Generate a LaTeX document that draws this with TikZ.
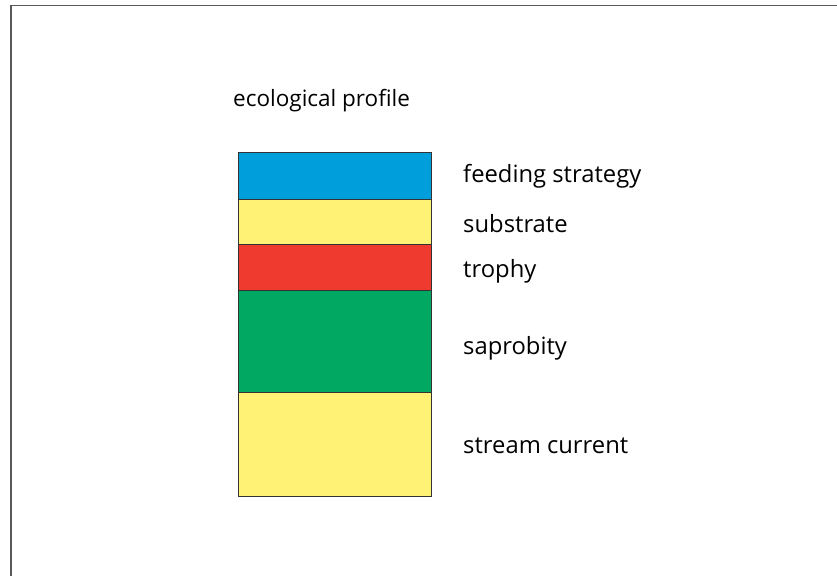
\documentclass[tikz,border=0pt]{standalone}
\usepackage{fontspec}
\setmainfont{Open Sans}
\usepackage{tikz}
\definecolor{feedblue}{HTML}{009EDB}
\definecolor{subyellow}{HTML}{FFF275}
\definecolor{trophred}{HTML}{EE3A2F}
\definecolor{sapgreen}{HTML}{00A862}
\begin{document}
\begin{tikzpicture}[
        x=0.03cm,y=-0.03cm,
        band/.style={draw=black!80,line width=0.6pt,minimum width=5.79cm,anchor=north west,inner sep=0pt,outer sep=0pt},
        tag/.style={anchor=west,font=\fontsize{20.3}{22}\selectfont,inner sep=0pt},
        head/.style={anchor=west,font=\fontsize{19.2}{21}\selectfont,inner sep=0pt}
    ]
        \useasboundingbox (0,0) rectangle (837,576);
        % Frame (top and left edges)
        \coordinate (TL) at (11,5.5);
        \coordinate (TR) at (837,5.5);
        \coordinate (BL) at (11,576);
        \draw [black!65,line width=1.5pt] (TR) -- (TL) -- (BL);

        % Title
        \node[head] (title) at (233,101) {ecological profile};

        % Define the bands
        \node[band,fill=feedblue,minimum height=1.41cm] (feed) at (238,152) {};
        \node[band,fill=subyellow,minimum height=1.35cm] (sub) at (238,199) {};
        \node[band,fill=trophred,minimum height=1.38cm] (troph) at (238,244) {};
        \node[band,fill=sapgreen,minimum height=3.06cm] (sap) at (238,290) {};
        \node[band,fill=subyellow,minimum height=3.12cm] (stream) at (238,392) {};

        % Labels
        \node[tag] (lfeed) at (463,176) {feeding strategy};
        \node[tag] (lsub) at (463,224) {substrate};
        \node[tag] (ltroph) at (463,271) {trophy};
        \node[tag] (lsap) at (463,348) {saprobity};
        \node[tag] (lstream) at (463,446) {stream current};
    \end{tikzpicture}
\end{document}
